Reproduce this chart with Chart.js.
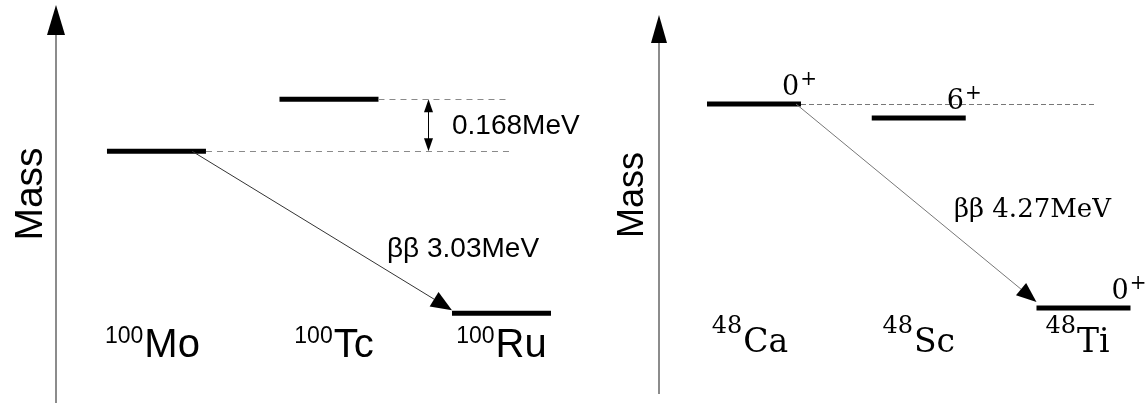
<!DOCTYPE html>
<html>
<head>
<meta charset="utf-8">
<script src="https://cdn.jsdelivr.net/npm/chart.js@4/dist/chart.umd.min.js"></script>
<style>
  html, body { margin: 0; padding: 0; background: #fff; }
  #wrap { position: relative; width: 1147px; height: 403px; overflow: hidden; }
  canvas { position: absolute; top: 0; }
</style>
</head>
<body>
<div id="wrap">
  <canvas id="left" width="600" height="403" style="left:0"></canvas>
  <canvas id="right" width="572" height="403" style="left:575px"></canvas>
</div>
<script>
// ---- data (mass levels in arbitrary units, 0..100 scale) ----
const axisTitle = 'Mass';

const leftNuclei = ['Mo', 'Tc', 'Ru'];
const leftMassNumber = '100';
const leftLevels = [62.5, 75.4, 22.3];
const leftGapLabel = '0.168MeV';
const leftDecayLabel = 'ββ 3.03MeV';

const rightNuclei = ['Ca', 'Sc', 'Ti'];
const rightMassNumber = '48';
const rightLevels = [74.2, 70.7, 23.6];
const rightSpins = ['0', '6', '0'];
const rightParity = ['+', '+', '+'];
const rightDecayLabel = 'ββ 4.27MeV';

// ---- helpers ----
function arrowHead(ctx, x1, y1, x2, y2, len, half) {
  const a = Math.atan2(y2 - y1, x2 - x1);
  const bx = x2 - len * Math.cos(a), by = y2 - len * Math.sin(a);
  ctx.beginPath();
  ctx.moveTo(x2, y2);
  ctx.lineTo(bx + half * Math.sin(a), by - half * Math.cos(a));
  ctx.lineTo(bx - half * Math.sin(a), by + half * Math.cos(a));
  ctx.closePath();
  ctx.fill();
}

const diagramPlugin = {
  id: 'diagram',
  afterDatasetsDraw(chart, args, o) {
    const ctx = chart.ctx;
    const xs = chart.scales.x, ys = chart.scales.y;
    const levels = o.levels;
    const hw = o.halfWidth;
    ctx.save();

    // vertical mass axis with arrow head
    ctx.strokeStyle = o.axisColor;
    ctx.lineWidth = 2;
    ctx.beginPath();
    ctx.moveTo(o.axisX, o.axisBottom);
    ctx.lineTo(o.axisX, o.axisHeadBase);
    ctx.stroke();
    ctx.fillStyle = '#000';
    ctx.beginPath();
    ctx.moveTo(o.axisX, o.axisTip);
    ctx.lineTo(o.axisX - o.axisHeadHalf, o.axisHeadBase);
    ctx.lineTo(o.axisX + o.axisHeadHalf, o.axisHeadBase);
    ctx.closePath();
    ctx.fill();

    // axis title (rotated)
    ctx.save();
    ctx.translate(o.titleX, o.titleY);
    ctx.rotate(-Math.PI / 2);
    ctx.font = o.titleFont;
    ctx.textAlign = 'center';
    ctx.textBaseline = 'alphabetic';
    ctx.fillStyle = '#000';
    ctx.fillText(axisTitle, 0, 0);
    ctx.restore();

    // nucleus labels with mass-number superscripts
    ctx.textBaseline = 'alphabetic';
    ctx.textAlign = 'left';
    o.nuclei.forEach((sym, i) => {
      const cx = xs.getPixelForValue(i);
      ctx.font = o.supFont;
      const wSup = ctx.measureText(o.massNumber).width;
      ctx.font = o.labelFont;
      const wMain = ctx.measureText(sym).width;
      const start = cx - (wSup + o.supGap + wMain) / 2 + (o.labelShift ? o.labelShift[i] : 0);
      ctx.font = o.supFont;
      ctx.fillText(o.massNumber, start, o.supBaseline);
      ctx.font = o.labelFont;
      ctx.fillText(sym, start + wSup + o.supGap, o.labelBaseline);
    });

    // dashed reference lines
    ctx.strokeStyle = o.dashColor;
    ctx.lineWidth = 1;
    ctx.setLineDash(o.dash);
    o.dashed.forEach(d => {
      const py = Math.round(ys.getPixelForValue(levels[d.level])) + 0.5;
      ctx.beginPath();
      ctx.moveTo(xs.getPixelForValue(d.level) + hw, py);
      ctx.lineTo(xs.getPixelForValue(d.to), py);
      ctx.stroke();
    });
    ctx.setLineDash([]);

    // double arrow for the gap
    if (o.gap) {
      const g = o.gap;
      const gx = Math.round(xs.getPixelForValue(g.x)) + 0.5;
      const yA = ys.getPixelForValue(levels[g.from]);
      const yB = ys.getPixelForValue(levels[g.to]);
      ctx.strokeStyle = '#000';
      ctx.fillStyle = '#000';
      ctx.lineWidth = 1;
      ctx.beginPath();
      ctx.moveTo(gx, yA + 8);
      ctx.lineTo(gx, yB - 8);
      ctx.stroke();
      arrowHead(ctx, gx, yB, gx, yA, 13, 4.5);
      arrowHead(ctx, gx, yA, gx, yB, 13, 4.5);
      ctx.font = g.font;
      ctx.textBaseline = 'middle';
      ctx.fillText(g.text, xs.getPixelForValue(g.textX), (yA + yB) / 2 + 1);
      ctx.textBaseline = 'alphabetic';
    }

    // double beta decay arrow
    const dcy = o.decay;
    const sx = xs.getPixelForValue(dcy.from) + hw - dcy.startInset;
    const sy = ys.getPixelForValue(levels[dcy.from]);
    const ex = xs.getPixelForValue(dcy.to) - hw;
    const ey = ys.getPixelForValue(levels[dcy.to]) - dcy.tipLift;
    const a = Math.atan2(ey - sy, ex - sx);
    ctx.strokeStyle = dcy.color;
    ctx.lineWidth = dcy.width;
    ctx.beginPath();
    ctx.moveTo(sx, sy);
    ctx.lineTo(ex - 15 * Math.cos(a), ey - 15 * Math.sin(a));
    ctx.stroke();
    ctx.fillStyle = '#000';
    arrowHead(ctx, sx, sy, ex, ey, dcy.headLen, dcy.headHalf);
    ctx.font = dcy.font;
    ctx.fillText(dcy.text, dcy.textX, dcy.textY);

    // spin-parity labels
    if (o.spins) {
      o.spins.forEach((s, i) => {
        const rx = xs.getPixelForValue(i) + hw;
        const ly = ys.getPixelForValue(levels[i]);
        ctx.font = o.spinFont;
        const x0 = rx - o.spinInset;
        ctx.fillText(s, x0, ly - o.spinLift);
        const w = ctx.measureText(s).width;
        ctx.font = o.parityFont;
        ctx.fillText(o.parity[i], x0 + w + 1, ly - o.spinLift - 10);
      });
    }
    ctx.restore();
  }
};

function makeChart(id, nuclei, levels, xmin, xmax, halfWidth, diagram) {
  diagram.levels = levels;
  diagram.halfWidth = halfWidth;
  diagram.nuclei = nuclei;
  return new Chart(document.getElementById(id), {
    type: 'scatter',
    data: {
      datasets: [{
        data: levels.map((v, i) => ({ x: i, y: v })),
        pointStyle: 'line',
        pointRadius: halfWidth,
        pointHoverRadius: halfWidth,
        pointBorderWidth: 5,
        pointHoverBorderWidth: 5,
        borderColor: '#000',
        backgroundColor: '#000',
        showLine: false,
        clip: false
      }]
    },
    options: {
      responsive: false,
      animation: false,
      devicePixelRatio: 1,
      events: [],
      layout: { padding: 0, autoPadding: false },
      plugins: { legend: { display: false }, tooltip: { enabled: false }, diagram },
      scales: {
        x: { type: 'linear', min: xmin, max: xmax, display: false },
        y: { type: 'linear', min: 0, max: 100, display: false }
      }
    },
    plugins: [diagramPlugin]
  });
}

makeChart('left', leftNuclei, leftLevels, -0.907, 2.571, 49.5, {
  axisX: 56, axisTip: 5, axisHeadBase: 35, axisHeadHalf: 9, axisBottom: 403, axisColor: '#8c8c8c',
  titleX: 42, titleY: 194, titleFont: '39px "Liberation Sans", Arial, sans-serif',
  massNumber: leftMassNumber,
  supFont: '23px "Liberation Sans", Arial, sans-serif', supBaseline: 343, supGap: 1,
  labelFont: '40px "Liberation Sans", Arial, sans-serif', labelBaseline: 357,
  labelShift: [-4, 5, 0],
  dashColor: '#8a8a8a', dash: [6, 5],
  dashed: [{ level: 1, to: 2.038 }, { level: 0, to: 2.061 }],
  gap: { x: 1.574, from: 1, to: 0, text: leftGapLabel, textX: 1.713,
         font: '28px "Liberation Sans", Arial, sans-serif' },
  decay: { from: 0, to: 2, startInset: 14, tipLift: 3, color: '#333', width: 1,
           headLen: 21, headHalf: 8.5, text: leftDecayLabel, textX: 387, textY: 257,
           font: '28px "Liberation Sans", Arial, sans-serif' }
});

makeChart('right', rightNuclei, rightLevels, -1.0865, 2.3855, 47, {
  axisX: 84, axisTip: 15, axisHeadBase: 43, axisHeadHalf: 8, axisBottom: 394, axisColor: '#8c8c8c',
  titleX: 68, titleY: 195, titleFont: '36px "Liberation Sans", Arial, sans-serif',
  massNumber: rightMassNumber,
  supFont: '24px "DejaVu Serif", serif', supBaseline: 333, supGap: 1,
  labelFont: '33px "DejaVu Serif", serif', labelBaseline: 352,
  labelShift: [-4, 0, -6],
  dashColor: '#777', dash: [5, 3],
  dashed: [{ level: 0, to: 2.082 }],
  gap: null,
  decay: { from: 0, to: 2, startInset: 5, tipLift: 6, color: '#777', width: 1,
           headLen: 20, headHalf: 8, text: rightDecayLabel, textX: 379, textY: 217,
           font: '26px "DejaVu Serif", serif' },
  spins: rightSpins, parity: rightParity,
  spinFont: '27px "DejaVu Serif", serif', parityFont: '20px "DejaVu Serif", serif',
  spinInset: 19, spinLift: 9
});
</script>
</body>
</html>
